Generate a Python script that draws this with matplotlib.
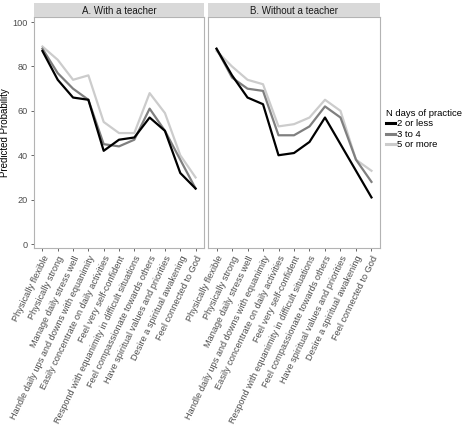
import matplotlib.pyplot as plt
from matplotlib.lines import Line2D

plt.rcParams["font.family"] = ["Liberation Sans", "DejaVu Sans"]

items = [
    "Physically flexible",
    "Physically strong",
    "Manage daily stress well",
    "Handle daily ups and downs with equanimity",
    "Easily concentrate on daily activities",
    "Feel very self-confident",
    "Respond with equanimity in difficult situations",
    "Feel compassionate towards others",
    "Have spiritual values and priorities",
    "Desire a spiritual awakening",
    "Feel connected to God",
]
groups = ["2 or less", "3 to 4", "5 or more"]
panels = ["A. With a teacher", "B. Without a teacher"]

with_teacher = {
    "2 or less": [87, 74, 66, 65, 42, 47, 48, 57, 51, 32, 25],
    "3 to 4": [88, 77, 70, 65, 45, 44, 47, 61, 51, 38, 25],
    "5 or more": [89, 83, 74, 76, 55, 50, 50, 68, 59, 40, 30],
}
without_teacher = {
    "2 or less": [88, 76, 66, 63, 40, 41, 46, 57, 45, 33, 21],
    "3 to 4": [88, 75, 70, 69, 49, 49, 53, 62, 57, 38, 28],
    "5 or more": [87, 80, 74, 72, 53, 54, 57, 65, 60, 38, 33],
}
colors = {"2 or less": "#000000", "3 to 4": "#7f7f7f", "5 or more": "#cccccc"}

W, H = 474, 426
fig = plt.figure(figsize=(W / 100, H / 100), dpi=100)

# panel boxes in pixels: left, right; shared top/bottom
top, bottom = 17, 248
boxes = [(34, 204), (208, 380)]

x = list(range(len(items)))
axes = []
for (l, r), title, data in zip(boxes, panels, [with_teacher, without_teacher]):
    ax = fig.add_axes([l / W, 1 - bottom / H, (r - l) / W, (bottom - top) / H])
    for g in reversed(groups):
        ax.plot(x, data[g], color=colors[g], lw=1.6)
    ax.set_xlim(-0.55, len(items) - 0.45)
    ax.set_ylim(-1.8, 102.3)
    ax.set_xticks(x)
    ax.set_xticklabels(items, rotation=64, ha="right", rotation_mode="anchor",
                       fontsize=6.6, color="#4d4d4d")
    for s in ax.spines.values():
        s.set_color("#b3b3b3")
        s.set_linewidth(0.8)
    ax.tick_params(length=2.5, width=0.6, color="#4d4d4d", pad=2)

    # facet strip
    strip = fig.add_axes([l / W, 1 - top / H, (r - l) / W, 14 / H])
    strip.set_facecolor("#d9d9d9")
    strip.set_xticks([])
    strip.set_yticks([])
    for s in strip.spines.values():
        s.set_visible(False)
    strip.text(0.5, 0.45, title, ha="center", va="center", fontsize=7,
               color="#1a1a1a", transform=strip.transAxes)
    axes.append(ax)

ax_a, ax_b = axes
ax_a.set_yticks([0, 20, 40, 60, 80, 100])
ax_a.tick_params(axis="y", labelsize=6.6, labelcolor="#4d4d4d")
ax_a.set_ylabel("Predicted Probability", fontsize=7)
ax_a.yaxis.set_label_coords(-24 / 170, 0.5)
ax_b.set_yticks([])

handles = [Line2D([0], [0], color=colors[g], lw=2.2) for g in groups]
leg = fig.legend(handles, groups, title="N days of practice", loc="upper left",
                 bbox_to_anchor=(386 / W, 1 - 109 / H), frameon=False,
                 fontsize=6.8, title_fontsize=6.8, handlelength=0.9,
                 handletextpad=0.3, labelspacing=0.15, borderaxespad=0,
                 borderpad=0)
leg._legend_box.align = "left"

fig.savefig("out.png", dpi=100)
